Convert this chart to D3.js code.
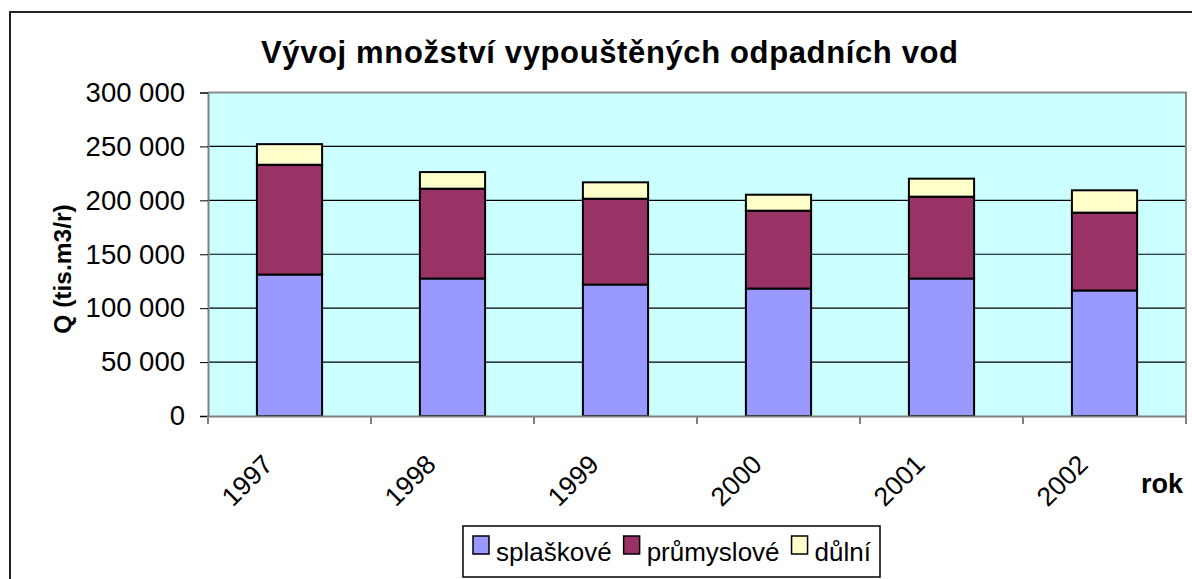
<!DOCTYPE html>
<html>
<head>
<meta charset="utf-8">
<script src="https://cdn.jsdelivr.net/npm/d3@7"></script>
<style>
    body { margin: 0; background: #fff; }
    svg { display: block; font-family: "Liberation Sans", Arial, sans-serif; }
</style>
</head>
<body>
<div id="chart"></div>
<script>
// data
const years = ['1997', '1998', '1999', '2000', '2001', '2002'];
const splaskove = [131200, 127500, 121900, 118200, 127500, 116400];
const prumyslove = [101800, 83300, 79600, 72200, 75900, 72200];
const dulni = [19100, 15400, 15200, 14800, 16700, 20700];
const seriesNames = ['splaškové', 'průmyslové', 'důlní'];
const seriesColors = ['#9999ff', '#993366', '#ffffcc'];
const yTicks = [0, 50000, 100000, 150000, 200000, 250000, 300000];

const width = 1192;
const height = 579;
const plot = { left: 208, right: 1186, top: 92.5, bottom: 416 };

let svg = d3.select('#chart')
    .append('svg')
    .attr('width', width)
    .attr('height', height);

// outer chart frame
svg.append('rect')
    .attr('x', 10).attr('y', 12)
    .attr('width', 1200).attr('height', 600)
    .attr('fill', 'none')
    .attr('stroke', '#222')
    .attr('stroke-width', 2);

// scales
let x = d3.scaleBand()
    .domain(years)
    .range([plot.left, plot.right])
    .paddingInner(0.6)
    .paddingOuter(0.3);

let y = d3.scaleLinear()
    .domain([0, 300000])
    .range([plot.bottom, plot.top]);

// plot area background
svg.append('rect')
    .attr('x', plot.left).attr('y', plot.top)
    .attr('width', plot.right - plot.left)
    .attr('height', plot.bottom - plot.top)
    .attr('fill', '#ccffff');

// gridlines
svg.append('g')
    .selectAll('line')
    .data(yTicks.filter(d => d > 0 && d < 300000))
    .join('line')
    .attr('x1', plot.left).attr('x2', plot.right)
    .attr('y1', d => y(d)).attr('y2', d => y(d))
    .attr('stroke', '#000')
    .attr('stroke-width', 1.2);

// plot border top / right
svg.append('path')
    .attr('d', `M${plot.left},${plot.top}H${plot.right}V${plot.bottom}`)
    .attr('fill', 'none')
    .attr('stroke', '#8c8c8c')
    .attr('stroke-width', 2);

// stacked bars
let table = years.map((yr, i) => ({
    year: yr,
    'splaškové': splaskove[i],
    'průmyslové': prumyslove[i],
    'důlní': dulni[i]
}));
let stacked = d3.stack().keys(seriesNames)(table);

svg.append('g')
    .selectAll('g')
    .data(stacked)
    .join('g')
    .attr('fill', (d, i) => seriesColors[i])
    .selectAll('rect')
    .data(d => d)
    .join('rect')
    .attr('x', d => x(d.data.year))
    .attr('y', d => y(d[1]))
    .attr('width', x.bandwidth())
    .attr('height', d => y(d[0]) - y(d[1]))
    .attr('stroke', '#000')
    .attr('stroke-width', 2);

// y axis
let yAxis = d3.axisLeft(y)
    .tickValues(yTicks)
    .tickSize(8)
    .tickPadding(15)
    .tickFormat(d => d3.format(',')(d).replace(/,/g, ' '));

let gy = svg.append('g')
    .attr('transform', `translate(${plot.left},0)`)
    .call(yAxis);
gy.select('.domain').attr('stroke', '#808080').attr('stroke-width', 2);
gy.selectAll('.tick line').attr('stroke', '#000');
gy.selectAll('.tick text')
    .attr('font-size', 27.5)
    .attr('font-family', '"Liberation Sans", Arial, sans-serif')
    .attr('fill', '#000');

// x axis
let xAxis = d3.axisBottom(x).tickSize(0).tickFormat('');
let gx = svg.append('g')
    .attr('transform', `translate(0,${plot.bottom})`)
    .call(xAxis);
gx.select('.domain').attr('stroke', '#808080').attr('stroke-width', 2);

// category separators below the axis
let bounds = d3.range(years.length + 1).map(i => plot.left + i * (plot.right - plot.left) / years.length);
gx.selectAll('.sep')
    .data(bounds)
    .join('line')
    .attr('class', 'sep')
    .attr('x1', d => d).attr('x2', d => d)
    .attr('y1', 0).attr('y2', 8)
    .attr('stroke', '#808080')
    .attr('stroke-width', 2);

// rotated year labels
svg.append('g')
    .selectAll('text')
    .data(years)
    .join('text')
    .attr('transform', d => `translate(${x(d) + x.bandwidth() / 2 - 15},${plot.bottom + 50}) rotate(-45)`)
    .attr('text-anchor', 'end')
    .attr('font-size', 26.5)
    .text(d => d);

// title
svg.append('text')
    .attr('x', 609.5)
    .attr('y', 63)
    .attr('text-anchor', 'middle')
    .attr('font-size', 31)
    .attr('font-weight', 'bold')
    .attr('textLength', 697)
    .attr('lengthAdjust', 'spacing')
    .text('Vývoj množství vypouštěných odpadních vod');

// axis titles
svg.append('text')
    .attr('transform', 'translate(71,269) rotate(-90)')
    .attr('text-anchor', 'middle')
    .attr('font-size', 24.5)
    .attr('font-weight', 'bold')
    .text('Q (tis.m3/r)');

svg.append('text')
    .attr('x', 1183)
    .attr('y', 493)
    .attr('text-anchor', 'end')
    .attr('font-size', 27)
    .attr('font-weight', 'bold')
    .text('rok');

// legend
let legend = svg.append('g');
legend.append('rect')
    .attr('x', 463).attr('y', 526)
    .attr('width', 417).attr('height', 51)
    .attr('fill', '#fff')
    .attr('stroke', '#000')
    .attr('stroke-width', 1.5);

let lx = 473;
seriesNames.forEach((name, i) => {
    legend.append('rect')
        .attr('x', lx).attr('y', 536)
        .attr('width', 16).attr('height', 18)
        .attr('fill', seriesColors[i])
        .attr('stroke', '#000')
        .attr('stroke-width', 1.5);
    let t = legend.append('text')
        .attr('x', lx + 23)
        .attr('y', 561)
        .attr('font-size', 26)
        .text(name);
    lx += 23 + t.node().getComputedTextLength() + 12;
});
</script>
</body>
</html>
